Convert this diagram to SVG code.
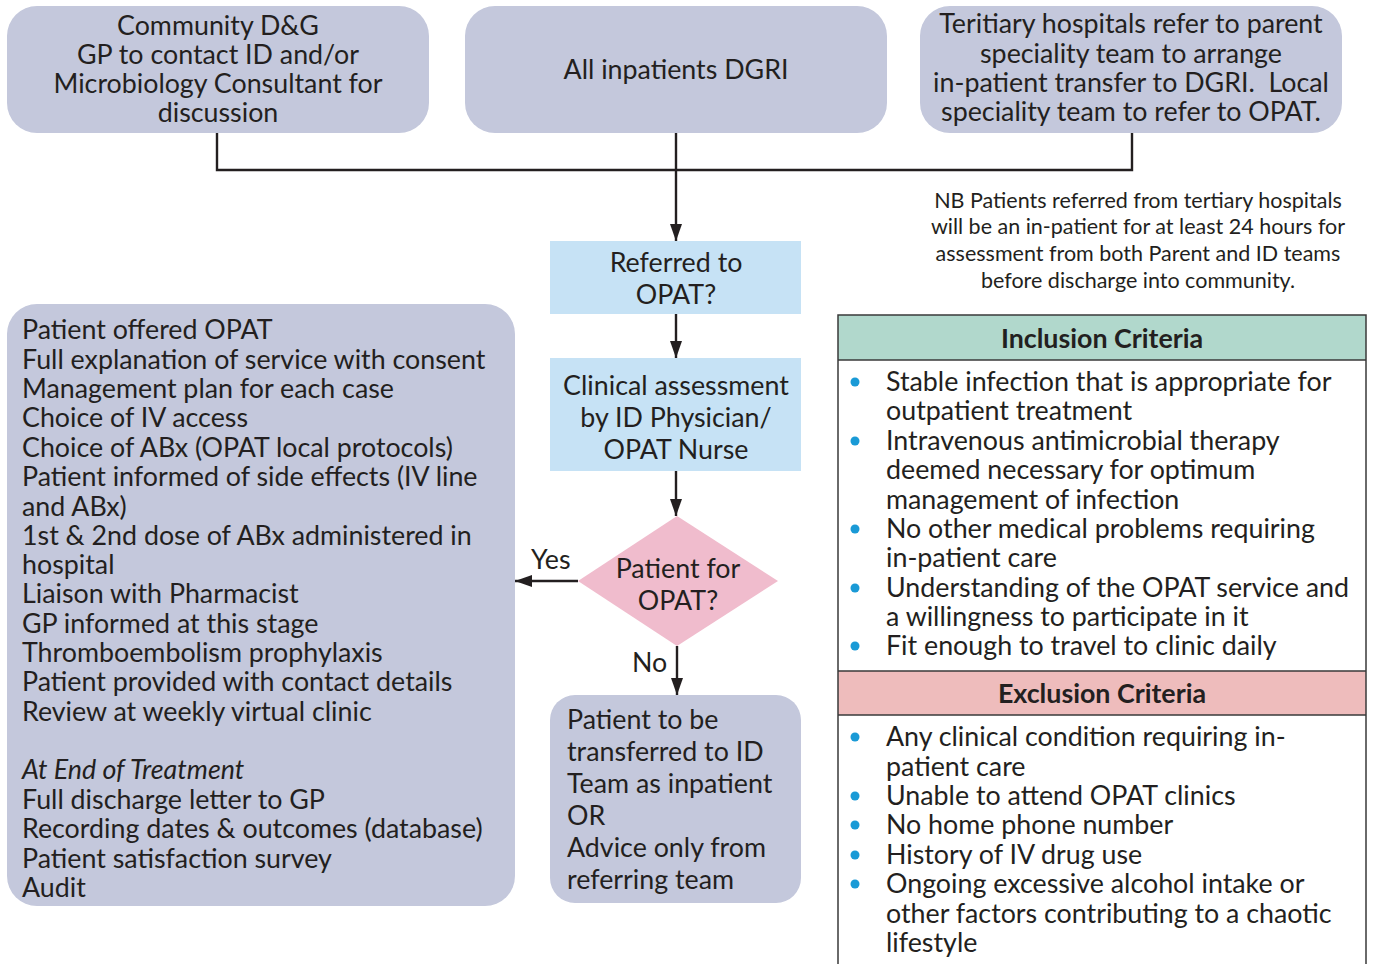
<svg xmlns="http://www.w3.org/2000/svg" width="1373" height="964" viewBox="0 0 1373 964">
<style>
.t{font-family:Lato,"Liberation Sans",sans-serif;font-size:26.8px;fill:#231f20}
.c{text-anchor:middle}
.s{font-size:21.5px}
.b{font-weight:bold}
.i{font-style:italic}
.grey{fill:#c4c8dc}
.blue{fill:#c6e2f5}
.ln{stroke:#231f20;stroke-width:2.4;fill:none}
.bul{fill:#1a9ad6}
</style>
<defs>
<marker id="ah" viewBox="0 0 10 10" refX="10" refY="5" markerWidth="17" markerHeight="12" markerUnits="userSpaceOnUse" orient="auto" preserveAspectRatio="none">
<path d="M0,0 L10,5 L0,10 z" fill="#231f20"/>
</marker>
</defs>
<rect width="1373" height="964" fill="#fff"/>
<g id="connectors">
<path class="ln" d="M217,133 V170 H1132 V133"/>
<path class="ln" d="M676,133 V241" marker-end="url(#ah)"/>
<path class="ln" d="M676,314 V358" marker-end="url(#ah)"/>
<path class="ln" d="M676,471 V516" marker-end="url(#ah)"/>
<path class="ln" d="M578,581 H515" marker-end="url(#ah)"/>
<path class="ln" d="M677,646 V695" marker-end="url(#ah)"/>
<text class="t" x="531" y="569">Yes</text>
<text class="t" x="632" y="672">No</text>
</g>
<g id="community">
<rect class="grey" x="7" y="6" width="422" height="127" rx="30"/>
<text class="t c" x="218" y="35">Community D&amp;G</text>
<text class="t c" x="218" y="64">GP to contact ID and/or</text>
<text class="t c" x="218" y="93">Microbiology Consultant for</text>
<text class="t c" x="218" y="122">discussion</text>
</g>
<g id="inpatients">
<rect class="grey" x="465" y="6" width="422" height="127" rx="30"/>
<text class="t c" x="676" y="79">All inpatients DGRI</text>
</g>
<g id="tertiary">
<rect class="grey" x="920" y="6" width="422" height="127" rx="30"/>
<text class="t c" x="1131" y="33">Teritiary hospitals refer to parent</text>
<text class="t c" x="1131" y="63">speciality team to arrange</text>
<text class="t c" x="1131" y="92" xml:space="preserve">in-patient transfer to DGRI.  Local</text>
<text class="t c" x="1131" y="121">speciality team to refer to OPAT.</text>
</g>
<g id="note">
<text class="t s c" x="1138" y="208">NB Patients referred from tertiary hospitals</text>
<text class="t s c" x="1138" y="234">will be an in-patient for at least 24 hours for</text>
<text class="t s c" x="1138" y="261">assessment from both Parent and ID teams</text>
<text class="t s c" x="1138" y="288">before discharge into community.</text>
</g>
<g id="referred">
<rect class="blue" x="550" y="241" width="251" height="73"/>
<text class="t c" x="676" y="272">Referred to</text>
<text class="t c" x="676" y="304">OPAT?</text>
</g>
<g id="clinical">
<rect class="blue" x="550" y="358" width="251" height="113"/>
<text class="t c" x="676" y="395">Clinical assessment</text>
<text class="t c" x="676" y="427">by ID Physician/</text>
<text class="t c" x="676" y="459">OPAT Nurse</text>
</g>
<g id="decision">
<polygon points="677,516 778,581 677,646 578,581" fill="#f0bccd"/>
<text class="t c" x="678" y="578">Patient for</text>
<text class="t c" x="678" y="610">OPAT?</text>
</g>
<g id="transfer">
<rect class="grey" x="550" y="695" width="251" height="208" rx="25"/>
<text class="t" x="567" y="729">Patient to be</text>
<text class="t" x="567" y="761">transferred to ID</text>
<text class="t" x="567" y="793">Team as inpatient</text>
<text class="t" x="567" y="825">OR</text>
<text class="t" x="567" y="857">Advice only from</text>
<text class="t" x="567" y="889">referring team</text>
</g>
<g id="opat-steps">
<rect class="grey" x="7" y="304" width="508" height="602" rx="30"/>
<text class="t" x="22" y="339">Patient offered OPAT</text>
<text class="t" x="22" y="369">Full explanation of service with consent</text>
<text class="t" x="22" y="398">Management plan for each case</text>
<text class="t" x="22" y="427">Choice of IV access</text>
<text class="t" x="22" y="457">Choice of ABx (OPAT local protocols)</text>
<text class="t" x="22" y="486">Patient informed of side effects (IV line</text>
<text class="t" x="22" y="516">and ABx)</text>
<text class="t" x="22" y="545">1st &amp; 2nd dose of ABx administered in</text>
<text class="t" x="22" y="574">hospital</text>
<text class="t" x="22" y="603">Liaison with Pharmacist</text>
<text class="t" x="22" y="633">GP informed at this stage</text>
<text class="t" x="22" y="662">Thromboembolism prophylaxis</text>
<text class="t" x="22" y="691">Patient provided with contact details</text>
<text class="t" x="22" y="721">Review at weekly virtual clinic</text>
<text class="t i" x="22" y="779">At End of Treatment</text>
<text class="t" x="22" y="809">Full discharge letter to GP</text>
<text class="t" x="22" y="838">Recording dates &amp; outcomes (database)</text>
<text class="t" x="22" y="868">Patient satisfaction survey</text>
<text class="t" x="22" y="897">Audit</text>
</g>
<g id="criteria">
<rect x="838" y="315" width="528" height="45" fill="#b1d8cc"/>
<rect x="838" y="671" width="528" height="44" fill="#eebcbc"/>
<path d="M838,970 V315 H1366 V970 M838,360 H1366 M838,671 H1366 M838,715 H1366" stroke="#3a3a3a" stroke-width="1.5" fill="none"/>
<text class="t b c" x="1102" y="348">Inclusion Criteria</text>
<circle class="bul" cx="855" cy="382" r="4.5"/>
<circle class="bul" cx="855" cy="441" r="4.5"/>
<circle class="bul" cx="855" cy="529" r="4.5"/>
<circle class="bul" cx="855" cy="588" r="4.5"/>
<circle class="bul" cx="855" cy="646" r="4.5"/>
<text class="t" x="886" y="391">Stable infection that is appropriate for</text>
<text class="t" x="886" y="420">outpatient treatment</text>
<text class="t" x="886" y="450">Intravenous antimicrobial therapy</text>
<text class="t" x="886" y="479">deemed necessary for optimum</text>
<text class="t" x="886" y="509">management of infection</text>
<text class="t" x="886" y="538">No other medical problems requiring</text>
<text class="t" x="886" y="567">in-patient care</text>
<text class="t" x="886" y="597">Understanding of the OPAT service and</text>
<text class="t" x="886" y="626">a willingness to participate in it</text>
<text class="t" x="886" y="655">Fit enough to travel to clinic daily</text>
<text class="t b c" x="1102" y="703">Exclusion Criteria</text>
<circle class="bul" cx="855" cy="737" r="4.5"/>
<circle class="bul" cx="855" cy="796" r="4.5"/>
<circle class="bul" cx="855" cy="825" r="4.5"/>
<circle class="bul" cx="855" cy="855" r="4.5"/>
<circle class="bul" cx="855" cy="884" r="4.5"/>
<text class="t" x="886" y="746">Any clinical condition requiring in-</text>
<text class="t" x="886" y="776">patient care</text>
<text class="t" x="886" y="805">Unable to attend OPAT clinics</text>
<text class="t" x="886" y="834">No home phone number</text>
<text class="t" x="886" y="864">History of IV drug use</text>
<text class="t" x="886" y="893">Ongoing excessive alcohol intake or</text>
<text class="t" x="886" y="923">other factors contributing to a chaotic</text>
<text class="t" x="886" y="952">lifestyle</text>
</g>
</svg>
